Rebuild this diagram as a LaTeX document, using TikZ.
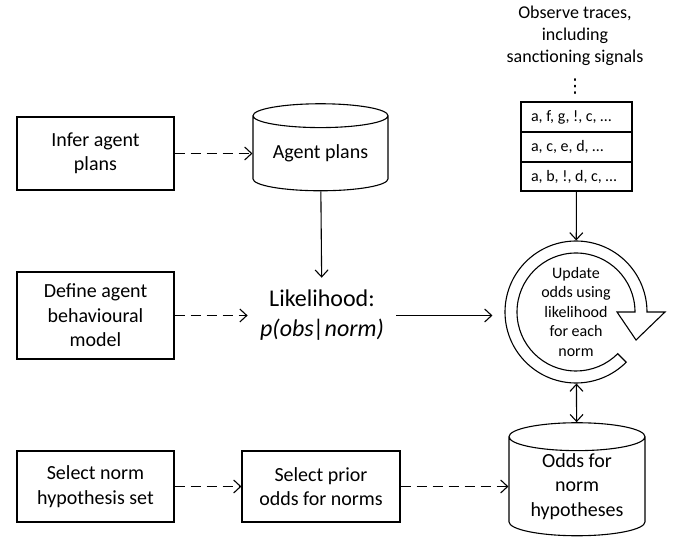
\documentclass[tikz,border=0pt]{standalone}
\usepackage{fontspec}
\setmainfont{Carlito}
\newfontfamily\symfont{DejaVu Sans}
\usetikzlibrary{shapes.geometric,arrows.meta,positioning}

\begin{document}
\frenchspacing
\begin{tikzpicture}[x=1pt,y=1pt,line width=1.1pt,
  >={Straight Barb[length=7pt,width=13pt]},
  stepbox/.style={draw,minimum width=157pt,inner sep=0pt,align=center,font=\fontsize{20}{24.4}\selectfont},
  store/.style={draw,cylinder,shape border rotate=90,aspect=0.25,inner sep=0pt,align=center,font=\fontsize{20}{24.4}\selectfont},
  tracerow/.style={draw,minimum width=111pt,inner sep=0pt,minimum height=30pt,outer sep=0pt,font=\fontsize{16}{19.5}\selectfont},
  dasharrow/.style={->,dash pattern=on 10pt off 6pt}]
\useasboundingbox (0,0) rectangle (680,544);

\node[stepbox,minimum height=73pt] (infer) at (95.5,390.5) {Infer agent\\plans};
\node[stepbox,minimum height=87pt] (define) at (95.5,228.5) {Define agent\\behavioural\\model};
\node[stepbox,minimum height=71pt] (normset) at (95.5,57.5) {Select norm\\hypothesis set};
\node[stepbox,minimum height=71pt,minimum width=158pt] (prior) at (321,57.5) {Select prior\\odds for norms};

\node[store,minimum width=135pt,minimum height=87pt] (plans) at (320.5,390.5) {Agent plans};
\node[store,minimum width=136pt,minimum height=113pt,aspect=0.3] (odds) at (577,57.5) {Odds for\\norm\\hypotheses};

\node[inner sep=12pt,align=center,font=\fontsize{24}{30}\selectfont] (lik) at (322,228.5) {Likelihood:\\\textit{p(obs|norm)}};

% traces
\node[align=center,font=\fontsize{18}{22}\selectfont] (observe) at (575,508) {Observe traces,\\including\\sanctioning signals};
\node[inner sep=0pt,font=\symfont\fontsize{19}{19}\selectfont] (dots) at (575,457.5) {⋮};
\node[tracerow] (row1) at (576.5,427) {\makebox[91pt][l]{a, f, g, !, c, …}};
\node[tracerow,below=0pt of row1] (row2) {\makebox[91pt][l]{a, c, e, d, …}};
\node[tracerow,below=0pt of row2,minimum height=29pt] (row3) {\makebox[91pt][l]{a, b, !, d, c, …}};

% update cycle
\node[circle,minimum size=142pt,align=center,font=\fontsize{16}{19.5}\selectfont] (update) at (576,232) {Update\\odds using\\likelihood\\for each\\norm};
\draw ([shift={(-45:71)}]update.center) arc[start angle=-45,end angle=-360,radius=71]
  -- ++(18,0) -- ([shift={(60,-28)}]update.center) -- ([shift={(41,0)}]update.center)
  -- ([shift={(59,0)}]update.center) arc[start angle=0,end angle=315,radius=59] -- cycle;

\draw[dasharrow] (infer) -- (plans);
\draw[dasharrow] (define) -- (lik);
\draw[dasharrow] (normset) -- (prior);
\draw[dasharrow] (prior) -- (odds);
\draw[->] (plans) -- (lik);
\draw[->,shorten >=12pt] (lik) -- (lik -| update.west);
\draw[->] (row3) -- (update);
\draw[<->] (update) -- (odds);
\end{tikzpicture}
\end{document}
